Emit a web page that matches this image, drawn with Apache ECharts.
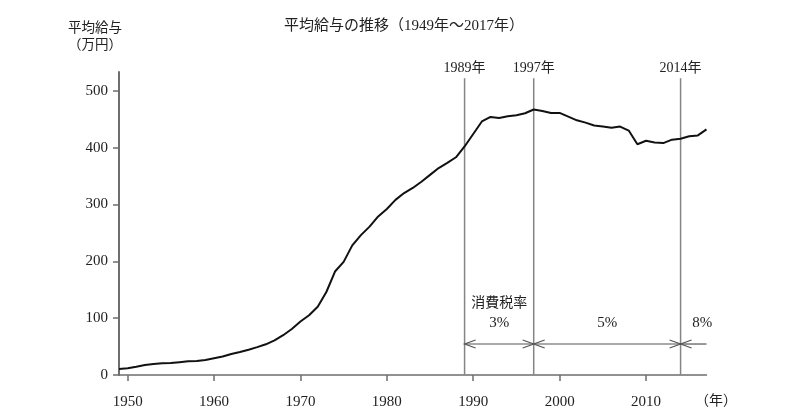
<!DOCTYPE html>
<html>
<head>
<meta charset="utf-8">
<script src="https://cdn.jsdelivr.net/npm/echarts@6/dist/echarts.min.js"></script>
<style>
  html, body { margin: 0; padding: 0; background: #ffffff; }
  #chart { width: 800px; height: 419px; }
</style>
</head>
<body>
<div id="chart"></div>
<script>
// ---- Data ----
const years = [1949, 1950, 1951, 1952, 1953, 1954, 1955, 1956, 1957, 1958, 1959,
  1960, 1961, 1962, 1963, 1964, 1965, 1966, 1967, 1968, 1969,
  1970, 1971, 1972, 1973, 1974, 1975, 1976, 1977, 1978, 1979,
  1980, 1981, 1982, 1983, 1984, 1985, 1986, 1987, 1988, 1989,
  1990, 1991, 1992, 1993, 1994, 1995, 1996, 1997, 1998, 1999,
  2000, 2001, 2002, 2003, 2004, 2005, 2006, 2007, 2008, 2009,
  2010, 2011, 2012, 2013, 2014, 2015, 2016, 2017];
const avgSalary = [10.6, 11.7, 14.5, 17.5, 19.5, 20.5, 21.0, 22.5, 24.0, 24.6, 26.5,
  29.5, 32.5, 37.0, 40.5, 44.5, 49.0, 54.0, 61.0, 70.0, 81.0,
  94.0, 105.0, 120.0, 146.0, 182.0, 199.0, 228.0, 246.0, 261.0, 279.0,
  292.0, 308.0, 320.0, 329.0, 340.0, 352.0, 364.0, 373.0, 383.0, 402.0,
  424.0, 446.0, 454.0, 452.0, 455.0, 457.0, 460.5, 467.0, 464.5, 461.0,
  461.0, 454.5, 448.0, 444.0, 439.0, 437.0, 435.0, 437.0, 430.0, 406.0,
  412.0, 409.0, 408.0, 414.0, 415.5, 420.0, 421.5, 432.0];
const xTickYears = [1950, 1960, 1970, 1980, 1990, 2000, 2010];
const yTickValues = [0, 100, 200, 300, 400, 500];
const markerYears = [1989, 1997, 2014];
const markerLabels = ['1989年', '1997年', '2014年'];
const markerTop = 522;
const taxStart = [1989, 1997, 2014];
const taxEnd = [1997, 2014, 2017];
const taxRightHead = [true, true, false];
const taxLabelYears = [1993, 2005.5, 2016.5];
const taxLabels = ['3%', '5%', '8%'];
const taxHeader = '消費税率';
const arrowLevel = 54.5;

// ---- Styles ----
const SERIF = "'Liberation Serif', 'Noto Sans CJK JP', serif";
const TEXT = '#222';
const AXIS = '#6e6e6e';
const GUIDE = '#858585';

const chart = echarts.init(document.getElementById('chart'), null, { renderer: 'canvas' });

const lineData = years.map((y, i) => [y, avgSalary[i]]);
const markerData = markerYears.map((y, i) => [y, markerTop]);
const taxData = taxStart.map((s, i) => [s, arrowLevel, taxEnd[i], taxLabelYears[i]]);

function chevron(x, y, dir, color) {
  // dir = -1 points left, +1 points right (tip at x,y)
  return {
    type: 'polyline',
    shape: { points: [[x - dir * 11, y - 4], [x, y], [x - dir * 11, y + 4]] },
    style: { stroke: color, lineWidth: 1.2, fill: null }
  };
}

const option = {
  animation: false,
  backgroundColor: '#ffffff',
  title: {
    text: '平均給与の推移（1949年～2017年）',
    left: 284,
    top: 19,
    padding: 0,
    textStyle: { fontFamily: SERIF, fontSize: 15, fontWeight: 'normal', color: TEXT }
  },
  grid: { left: 119, right: 93.5, top: 72, bottom: 44, containLabel: false, outerBoundsMode: 'none' },
  xAxis: {
    type: 'value',
    min: 1949,
    max: 2017,
    name: '\n（年）',
    nameLocation: 'end',
    nameGap: 9.5,
    nameTextStyle: { fontFamily: SERIF, fontSize: 14, lineHeight: 52, color: TEXT, align: 'center', verticalAlign: 'middle' },
    axisLine: { show: true, onZero: false, lineStyle: { color: AXIS, width: 1.5 } },
    axisTick: { show: true, length: 6, customValues: xTickYears, lineStyle: { color: AXIS, width: 1.5 } },
    axisLabel: { customValues: xTickYears, margin: 20, fontFamily: SERIF, fontSize: 15, color: TEXT,
      formatter: function (v) { return String(v); } },
    splitLine: { show: false }
  },
  yAxis: {
    type: 'value',
    min: 0,
    max: 533,
    name: '平均給与\n（万円）',
    nameLocation: 'end',
    nameGap: 18.5,
    nameTextStyle: { fontFamily: SERIF, fontSize: 13.5, lineHeight: 17, color: TEXT, align: 'right', verticalAlign: 'bottom', padding: [0, -3, 0, 0] },
    axisLine: { show: true, lineStyle: { color: AXIS, width: 2 } },
    axisTick: { show: true, length: 6, customValues: yTickValues, lineStyle: { color: AXIS, width: 1.5 } },
    axisLabel: { customValues: yTickValues, margin: 11, fontFamily: SERIF, fontSize: 15, color: TEXT,
      formatter: function (v) { return String(v); } },
    splitLine: { show: false }
  },
  series: [
    {
      type: 'custom',
      name: 'markers',
      silent: true,
      clip: false,
      z: 3,
      data: markerData,
      renderItem: function (params, api) {
        const yr = api.value(0);
        const top = api.coord([yr, api.value(1)]);
        const bot = api.coord([yr, 0]);
        return {
          type: 'group',
          children: [
            { type: 'line', shape: { x1: top[0], y1: top[1], x2: bot[0], y2: bot[1] }, style: { stroke: GUIDE, lineWidth: 1.5 } },
            { type: 'text', style: { text: markerLabels[params.dataIndex], x: top[0], y: top[1] - 10, align: 'center', verticalAlign: 'middle', fontFamily: SERIF, fontSize: 14, fill: TEXT } }
          ]
        };
      }
    },
    {
      type: 'custom',
      name: 'tax',
      silent: true,
      clip: false,
      z: 3,
      data: taxData,
      renderItem: function (params, api) {
        const i = params.dataIndex;
        const a = api.coord([api.value(0), api.value(1)]);
        const b = api.coord([api.value(2), api.value(1)]);
        const lab = api.coord([api.value(3), api.value(1)]);
        const children = [
          { type: 'line', shape: { x1: a[0], y1: a[1], x2: b[0], y2: b[1] }, style: { stroke: '#555', lineWidth: 1.2 } },
          chevron(a[0], a[1], -1, '#555'),
          { type: 'text', style: { text: taxLabels[i], x: lab[0], y: lab[1] - 21, align: 'center', verticalAlign: 'middle', fontFamily: SERIF, fontSize: 15, fill: TEXT } }
        ];
        if (taxRightHead[i]) children.push(chevron(b[0], b[1], 1, '#555'));
        if (i === 0) {
          children.push({ type: 'text', style: { text: taxHeader, x: lab[0], y: lab[1] - 41, align: 'center', verticalAlign: 'middle', fontFamily: SERIF, fontSize: 14, fill: TEXT } });
        }
        return { type: 'group', children: children };
      }
    },
    {
      type: 'line',
      name: '平均給与',
      data: lineData,
      symbol: 'none',
      smooth: false,
      z: 5,
      lineStyle: { color: '#111', width: 2 }
    }
  ]
};

chart.setOption(option);
</script>
</body>
</html>
